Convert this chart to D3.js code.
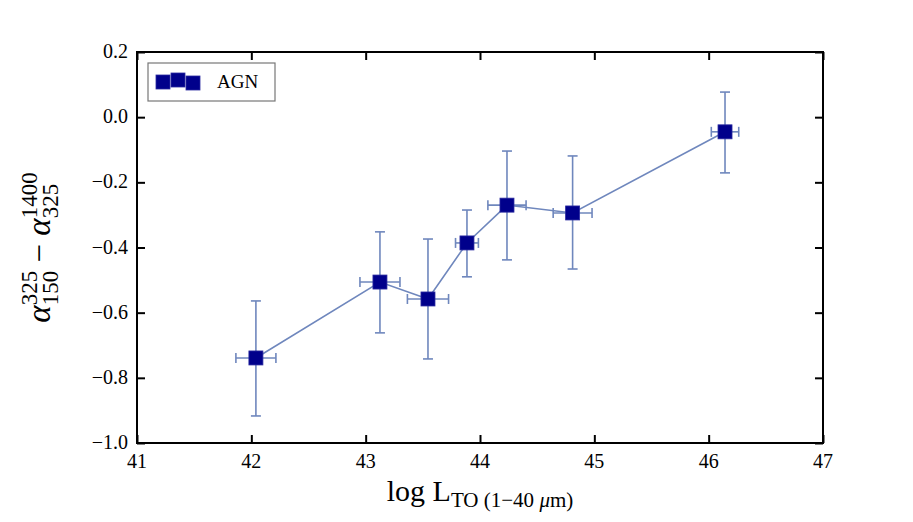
<!DOCTYPE html>
<html>
<head>
<meta charset="utf-8">
<script src="https://cdn.jsdelivr.net/npm/d3@7"></script>
<style>
  body { margin: 0; background: #fff; }
  svg text { font-family: "Liberation Serif", "DejaVu Serif", serif; }
</style>
</head>
<body>
<div id="chart"></div>
<script>
// data
const logL   = [42.04, 43.125, 43.545, 43.886, 44.236, 44.81, 46.143];
const xErr   = [0.175, 0.175, 0.18, 0.1, 0.167, 0.17, 0.12];
const alpha  = [-0.739, -0.506, -0.558, -0.386, -0.270, -0.294, -0.045];
const yErrLo = [0.178, 0.156, 0.184, 0.104, 0.168, 0.172, 0.126];
const yErrHi = [0.175, 0.154, 0.184, 0.101, 0.166, 0.175, 0.122];
const xTicks = [41, 42, 43, 44, 45, 46, 47];
const yTicks = [-1.0, -0.8, -0.6, -0.4, -0.2, 0.0, 0.2];
const seriesName = "AGN";

const W = 913, H = 522;
const margin = { left: 137, right: 90, top: 52, bottom: 79 };

const svg = d3.select("#chart").append("svg")
    .attr("width", W)
    .attr("height", H);

const x = d3.scaleLinear().domain([41, 47]).range([margin.left, W - margin.right]);
const y = d3.scaleLinear().domain([-1.0, 0.2]).range([H - margin.bottom, margin.top]);

const fmt = d => (d < 0 ? "\u2212" : "") + Math.abs(d).toFixed(1);
const tickLen = 8;

// tick marks on all four sides pointing inward (labels drawn separately)
const axes = [
    svg.append("g").attr("transform", `translate(0,${y(-1.0)})`)
        .call(d3.axisBottom(x).tickValues(xTicks).tickFormat("").tickSizeInner(-tickLen).tickSizeOuter(0)),
    svg.append("g").attr("transform", `translate(0,${y(0.2)})`)
        .call(d3.axisTop(x).tickValues(xTicks).tickFormat("").tickSizeInner(-tickLen).tickSizeOuter(0)),
    svg.append("g").attr("transform", `translate(${x(41)},0)`)
        .call(d3.axisLeft(y).tickValues(yTicks).tickFormat("").tickSizeInner(-tickLen).tickSizeOuter(0)),
    svg.append("g").attr("transform", `translate(${x(47)},0)`)
        .call(d3.axisRight(y).tickValues(yTicks).tickFormat("").tickSizeInner(-tickLen).tickSizeOuter(0))
];
axes.forEach(g => {
    g.select(".domain").remove();
    g.selectAll(".tick line").attr("stroke", "#000").attr("stroke-width", 2);
    g.selectAll(".tick text").remove();
});

svg.append("g").selectAll("text")
    .data(xTicks)
    .join("text")
    .attr("x", d => x(d))
    .attr("y", y(-1.0) + 25)
    .attr("text-anchor", "middle")
    .style("font-size", "20px")
    .text(d => d);

svg.append("g").selectAll("text")
    .data(yTicks)
    .join("text")
    .attr("x", x(41) - 9)
    .attr("y", d => y(d) + 6)
    .attr("text-anchor", "end")
    .style("font-size", "20px")
    .text(fmt);

svg.append("rect")
    .attr("x", x(41)).attr("y", y(0.2))
    .attr("width", x(47) - x(41)).attr("height", y(-1.0) - y(0.2))
    .attr("fill", "none").attr("stroke", "#000").attr("stroke-width", 2);

const pts = logL.map((v, i) => ({ x: v, y: alpha[i], xe: xErr[i], lo: yErrLo[i], hi: yErrHi[i] }));
const lineColor = "#6f87bd";
const cap = 5;

// connecting line
svg.append("path")
    .datum(pts)
    .attr("d", d3.line().x(d => x(d.x)).y(d => y(d.y)))
    .attr("fill", "none")
    .attr("stroke", lineColor)
    .attr("stroke-width", 1.6);

// error bars
const eb = svg.append("g").attr("stroke", lineColor).attr("stroke-width", 1.6);
pts.forEach(d => {
    const cx = x(d.x), cy = y(d.y);
    const yt = y(d.y + d.hi), yb = y(d.y - d.lo);
    const xl = x(d.x - d.xe), xr = x(d.x + d.xe);
    eb.append("line").attr("x1", cx).attr("x2", cx).attr("y1", yt).attr("y2", yb);
    eb.append("line").attr("x1", cx - cap).attr("x2", cx + cap).attr("y1", yt).attr("y2", yt);
    eb.append("line").attr("x1", cx - cap).attr("x2", cx + cap).attr("y1", yb).attr("y2", yb);
    eb.append("line").attr("x1", xl).attr("x2", xr).attr("y1", cy).attr("y2", cy);
    eb.append("line").attr("x1", xl).attr("x2", xl).attr("y1", cy - cap).attr("y2", cy + cap);
    eb.append("line").attr("x1", xr).attr("x2", xr).attr("y1", cy - cap).attr("y2", cy + cap);
});

// markers
const ms = 14;
svg.append("g").selectAll("rect")
    .data(pts)
    .join("rect")
    .attr("x", d => x(d.x) - ms / 2)
    .attr("y", d => y(d.y) - ms / 2)
    .attr("width", ms).attr("height", ms)
    .attr("fill", "#00008b")
    .attr("stroke", "#2a2aa0")
    .attr("stroke-width", 0.8);

// legend
const lg = svg.append("g");
lg.append("rect")
    .attr("x", 148).attr("y", 63).attr("width", 127).attr("height", 38)
    .attr("fill", "#fff").attr("stroke", "#777").attr("stroke-width", 1.2);
[[163, 82], [178, 80], [193, 83]].forEach(p => {
    lg.append("rect")
        .attr("x", p[0] - 7).attr("y", p[1] - 7).attr("width", 14).attr("height", 14)
        .attr("fill", "#00008b").attr("stroke", "#2a2aa0").attr("stroke-width", 0.8);
});
lg.append("text")
    .attr("x", 217).attr("y", 88)
    .style("font-size", "19px")
    .text(seriesName);

// x label
const xl = svg.append("text")
    .attr("x", (x(41) + x(47)) / 2).attr("y", 501)
    .attr("text-anchor", "middle")
    .style("font-size", "30px");
xl.append("tspan").text("log L");
xl.append("tspan").attr("dy", 6).style("font-size", "21px").text("TO (1\u221240 ");
xl.append("tspan").style("font-size", "21px").style("font-style", "italic").text("\u03bc");
xl.append("tspan").style("font-size", "21px").text("m)");

// y label
const yl = svg.append("text")
    .attr("transform", `translate(50,${(y(0.2) + y(-1.0)) / 2}) rotate(-90)`)
    .attr("text-anchor", "middle")
    .style("font-size", "33px");
yl.append("tspan").style("font-style", "italic").text("\u03b1");
yl.append("tspan").attr("dy", 8).style("font-size", "23px").text("150");
yl.append("tspan").attr("dx", -34.5).attr("dy", -21).style("font-size", "23px").text("325");
yl.append("tspan").attr("dy", 13).text(" \u2212 ");
yl.append("tspan").style("font-style", "italic").text("\u03b1");
yl.append("tspan").attr("dy", 8).style("font-size", "23px").text("325");
yl.append("tspan").attr("dx", -34.5).attr("dy", -21).style("font-size", "23px").text("1400");
</script>
</body>
</html>
